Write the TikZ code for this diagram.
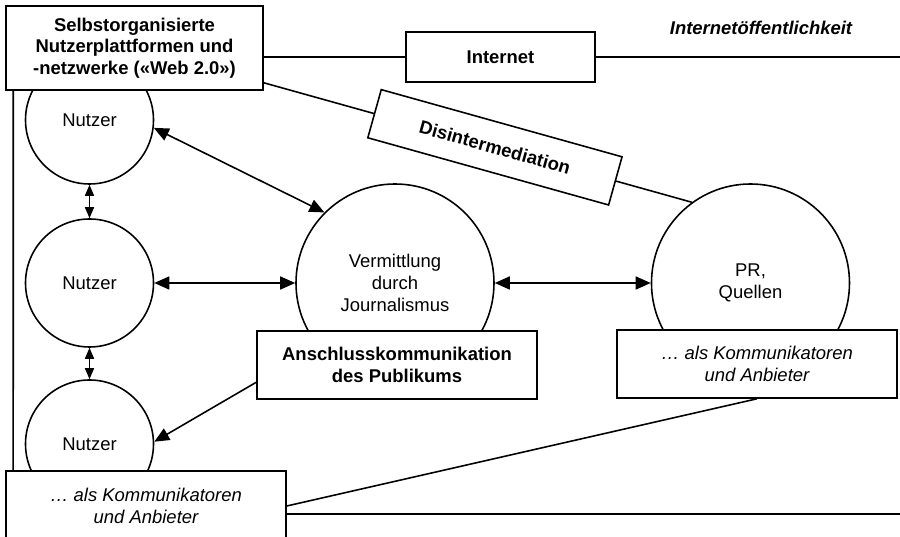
\documentclass[tikz,border=0pt]{standalone}
\usepackage{fontspec}
\setmainfont{Liberation Sans}
\usetikzlibrary{arrows.meta, positioning}

\newcommand{\diafont}{\fontsize{10.5}{12.3}\selectfont}

\begin{document}
\begin{tikzpicture}[line width=0.9pt,
    every node/.style={font=\diafont, align=center},
    user/.style={circle, draw, minimum size=2.56cm},
    hub/.style={circle, draw, minimum size=3.96cm},
    labelbox/.style={draw, fill=white, inner sep=0pt},
    boldbox/.style={labelbox, font=\diafont\bfseries},
    rolebox/.style={labelbox, minimum width=5.6cm, font=\diafont\itshape},
    link/.style={{Triangle[length=0.3cm,width=0.26cm]}-{Triangle[length=0.3cm,width=0.26cm]}},
    shortlink/.style={{Triangle[length=0.22cm,width=0.18cm]}-{Triangle[length=0.22cm,width=0.18cm]}}]
    \useasboundingbox (0,0) rectangle (18,10.74);

    % circles
    \node[user] (n1) at (1.79,8.34) {Nutzer};
    \node[user] (n2) at (1.79,5.08) {Nutzer};
    \node[user] (n3) at (1.79,1.86) {Nutzer};
    \node[hub] (verm) at (7.9,5.08) {Vermittlung\\durch\\Journalismus};
    \node[hub] (pr) at (15.01,5.08) {PR,\\Quellen};

    % boxes
    \node[boldbox, minimum width=5.14cm, minimum height=1.68cm] (web) at (2.69,9.78)
        {Selbstorganisierte\\Nutzerplattformen und\\-netzwerke («Web 2.0»)};
    \node[boldbox, minimum width=3.78cm, minimum height=1cm] (inet) at (10.01,9.6) {Internet};
    \node[font=\diafont\bfseries\itshape] (public) at (15.22,10.18) {Internetöffentlichkeit};
    \node[boldbox, minimum width=5.6cm, minimum height=1.36cm] (ansch) at (7.94,3.44)
        {Anschlusskommunikation\\des Publikums};
    \node[rolebox, minimum height=1.36cm] (prrole) at (15.14,3.46)
        {… als Kommunikatoren\\und Anbieter};
    \node[rolebox, minimum height=1.4cm] (userrole) at (2.92,0.62)
        {… als Kommunikatoren\\und Anbieter};

    \coordinate (topend) at (18,9.6);
    \coordinate (botend) at (18,0.46);

    % frame lines
    \draw (web.east |- inet.west) -- (inet.west);
    \draw (inet.east) -- (topend);
    \draw ([xshift=0.16cm]web.south west) -- ([xshift=0.16cm]userrole.north west);
    \draw ([yshift=-0.16cm]userrole.east) -- (botend);
    \draw (prrole.south) -- (userrole.east);
    \draw ([yshift=0.16cm]web.south east) -- node[boldbox, sloped, pos=0.54, minimum width=5cm, minimum height=1cm] (dis) {Disintermediation} (pr.126);

    % arrows
    \draw[link] (n1.-7) -- (verm.135);
    \draw[link] (n2) -- (verm);
    \draw[link] (verm) -- (pr);
    \draw[shortlink] (n1) -- (n2);
    \draw[shortlink] (n2) -- (n3);
    \draw[-{Triangle[length=0.3cm,width=0.26cm]}] (ansch.187) -- (n3.2);
\end{tikzpicture}
\end{document}
